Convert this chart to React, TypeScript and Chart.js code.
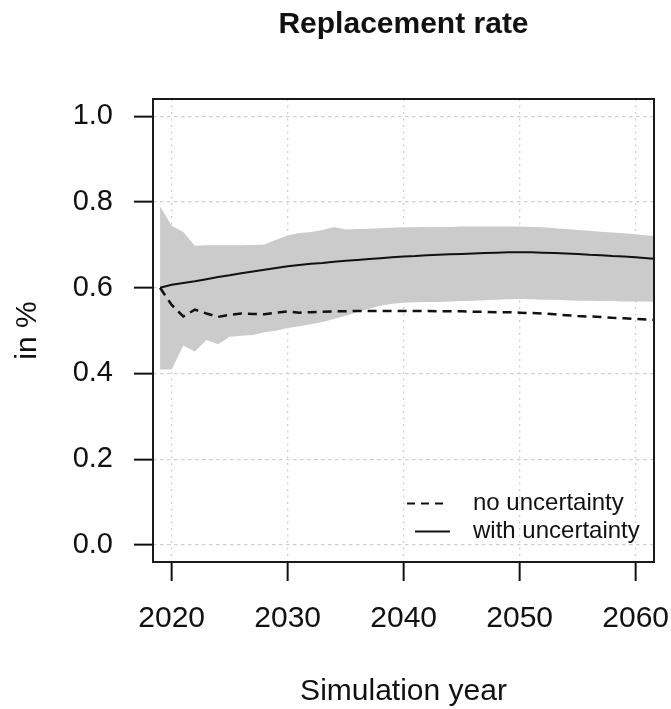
import { useEffect, useRef } from "react";
import { Chart, registerables } from "chart.js";

Chart.register(...registerables);

const years = [
  2019, 2020, 2021, 2022, 2023, 2024, 2025, 2026, 2027, 2028, 2029, 2030, 2031, 2032, 2033,
  2034, 2035, 2036, 2037, 2038, 2039, 2040, 2041, 2042, 2043, 2044, 2045, 2046, 2047, 2048,
  2049, 2050, 2051, 2052, 2053, 2054, 2055, 2056, 2057, 2058, 2059, 2060, 2061, 2062,
];

const withUncertainty = [
  0.6, 0.607, 0.611, 0.615, 0.62, 0.625, 0.629, 0.634, 0.638, 0.642, 0.646, 0.65, 0.653, 0.656,
  0.658, 0.661, 0.663, 0.665, 0.667, 0.669, 0.671, 0.673, 0.674, 0.676, 0.677, 0.678, 0.679,
  0.68, 0.681, 0.682, 0.683, 0.683, 0.683, 0.682, 0.681, 0.68, 0.679, 0.677, 0.676, 0.674,
  0.673, 0.671, 0.669, 0.667,
];

const noUncertainty = [
  0.6, 0.56, 0.533, 0.549, 0.54, 0.532, 0.537, 0.54, 0.539, 0.538, 0.542, 0.545, 0.542, 0.543,
  0.544, 0.545, 0.545, 0.546, 0.546, 0.546, 0.546, 0.546, 0.546, 0.546, 0.545, 0.545, 0.545,
  0.544, 0.544, 0.543, 0.543, 0.542, 0.541, 0.54, 0.538, 0.536, 0.534, 0.533, 0.532, 0.53,
  0.529, 0.527, 0.526, 0.524,
];

const bandLower = [
  0.409, 0.409, 0.465, 0.451, 0.478, 0.468, 0.486, 0.488, 0.49, 0.496, 0.5, 0.506, 0.51, 0.515,
  0.52, 0.527, 0.535, 0.543, 0.551, 0.558, 0.563, 0.565, 0.566, 0.567, 0.567, 0.568, 0.569,
  0.57, 0.571, 0.572, 0.573, 0.574, 0.573, 0.572, 0.572, 0.571, 0.57, 0.57, 0.569, 0.569,
  0.568, 0.568, 0.568, 0.567,
];

const bandUpper = [
  0.79, 0.745, 0.73, 0.698, 0.699, 0.699, 0.699, 0.699, 0.7, 0.701, 0.712, 0.722, 0.728, 0.73,
  0.735, 0.742, 0.736, 0.737, 0.738, 0.739, 0.74, 0.741, 0.741, 0.742, 0.742, 0.742, 0.743,
  0.743, 0.743, 0.743, 0.743, 0.743, 0.742, 0.741, 0.739, 0.737, 0.735, 0.733, 0.731, 0.729,
  0.727, 0.725, 0.722, 0.72,
];

const xTicks = [2020, 2030, 2040, 2050, 2060];
const yTicks = [0, 0.2, 0.4, 0.6, 0.8, 1.0];
const legendLabels = ["no uncertainty", "with uncertainty"];
const titleText = "Replacement rate";
const xTitle = "Simulation year";
const yTitle = "in %";

const FONT = "'Liberation Sans', Arial, Helvetica, sans-serif";

const toPoints = (vals: number[]) => vals.map((v, i) => ({ x: years[i], y: v }));

const boxPlugin = {
  id: "boxPlugin",
  afterDraw(chart: any) {
    const { ctx, chartArea } = chart;
    ctx.save();
    ctx.strokeStyle = "#1a1a1a";
    ctx.lineWidth = 2;
    ctx.setLineDash([]);
    ctx.strokeRect(chartArea.left, chartArea.top, chartArea.right - chartArea.left, chartArea.bottom - chartArea.top);
    ctx.restore();
  },
};

const legendPlugin = {
  id: "legendPlugin",
  afterDraw(chart: any) {
    const { ctx, chartArea } = chart;
    const r = chartArea.right;
    const b = chartArea.bottom;
    ctx.save();
    ctx.strokeStyle = "#111";
    ctx.lineWidth = 2.2;
    const y1 = b - 58.5;
    const y2 = b - 30.5;
    ctx.setLineDash([8, 6]);
    ctx.beginPath();
    ctx.moveTo(r - 247, y1);
    ctx.lineTo(r - 211, y1);
    ctx.stroke();
    ctx.setLineDash([]);
    ctx.beginPath();
    ctx.moveTo(r - 239, y2);
    ctx.lineTo(r - 204, y2);
    ctx.stroke();
    ctx.fillStyle = "#111";
    ctx.font = `24px ${FONT}`;
    ctx.textAlign = "left";
    ctx.textBaseline = "middle";
    ctx.fillText(legendLabels[0], r - 181, y1);
    ctx.fillText(legendLabels[1], r - 181, y2);
    ctx.restore();
  },
};

export default function App() {
  const ref = useRef<HTMLCanvasElement | null>(null);

  useEffect(() => {
    if (!ref.current) return;
    const chart = new Chart(ref.current, {
      type: "line",
      data: {
        datasets: [
          {
            label: legendLabels[1],
            data: toPoints(withUncertainty),
            borderColor: "#111",
            borderWidth: 2,
            pointRadius: 0,
            fill: false,
            tension: 0,
          },
          {
            label: legendLabels[0],
            data: toPoints(noUncertainty),
            borderColor: "#111",
            borderWidth: 2.5,
            borderDash: [9, 6],
            pointRadius: 0,
            fill: false,
            tension: 0,
          },
          {
            label: "lower",
            data: toPoints(bandLower),
            borderWidth: 0,
            borderColor: "rgba(0,0,0,0)",
            pointRadius: 0,
            fill: false,
          },
          {
            label: "upper",
            data: toPoints(bandUpper),
            borderWidth: 0,
            borderColor: "rgba(0,0,0,0)",
            backgroundColor: "#cbcbcb",
            pointRadius: 0,
            fill: "-1",
          },
        ],
      },
      options: {
        animation: false,
        responsive: false,
        layout: { padding: { top: 0, right: 17, bottom: 0, left: 0 } },
        plugins: {
          legend: { display: false },
          tooltip: { enabled: false },
          filler: { drawTime: "beforeDatasetsDraw" },
          title: {
            display: true,
            text: titleText,
            fullSize: false,
            color: "#111",
            font: { family: FONT, size: 30, weight: "bold", lineHeight: 1 },
            padding: { top: 10, bottom: 59 },
          },
        },
        scales: {
          x: {
            type: "linear",
            min: 2018.39,
            max: 2061.58,
            z: 1,
            afterFit: (axis: any) => {
              axis.height = 147;
              axis.paddingLeft = 0;
              axis.paddingRight = 0;
            },
            afterBuildTicks: (axis: any) => {
              axis.ticks = xTicks.map((v) => ({ value: v }));
            },
            ticks: {
              color: "#111",
              padding: 20,
              maxRotation: 0,
              autoSkip: false,
              font: { family: FONT, size: 30 },
              callback: (v: any) => String(v),
            },
            grid: {
              color: "#d0d0d0",
              lineWidth: 1.3,
              tickLength: 19,
              tickColor: "#111",
              tickWidth: 2,
              tickBorderDash: [],
            },
            border: { display: false, dash: [2, 4.5] },
            title: {
              display: true,
              text: xTitle,
              color: "#111",
              font: { family: FONT, size: 30, lineHeight: 1 },
              padding: { top: 0, bottom: 2 },
            },
          },
          y: {
            type: "linear",
            min: -0.04,
            max: 1.0406,
            z: 1,
            afterFit: (axis: any) => {
              axis.width = 153;
              axis.paddingTop = 0;
              axis.paddingBottom = 0;
            },
            afterBuildTicks: (axis: any) => {
              axis.ticks = yTicks.map((v) => ({ value: v }));
            },
            ticks: {
              color: "#111",
              padding: 21,
              autoSkip: false,
              font: { family: FONT, size: 29 },
              callback: (v: any) => Number(v).toFixed(1),
            },
            grid: {
              color: "#d0d0d0",
              lineWidth: 1.3,
              tickLength: 19,
              tickColor: "#111",
              tickWidth: 2,
              tickBorderDash: [],
            },
            border: { display: false, dash: [3.5, 3.5] },
            title: {
              display: true,
              text: yTitle,
              color: "#111",
              font: { family: FONT, size: 30, lineHeight: 1 },
              padding: { top: 13, bottom: 0 },
            },
          },
        },
      } as any,
      plugins: [boxPlugin, legendPlugin],
    });
    return () => chart.destroy();
  }, []);

  return (
    <div style={{ position: "absolute", left: 0, top: 0, width: 671, height: 709, background: "#fff" }}>
      <canvas ref={ref} width={671} height={709} style={{ display: "block" }} />
    </div>
  );
}
